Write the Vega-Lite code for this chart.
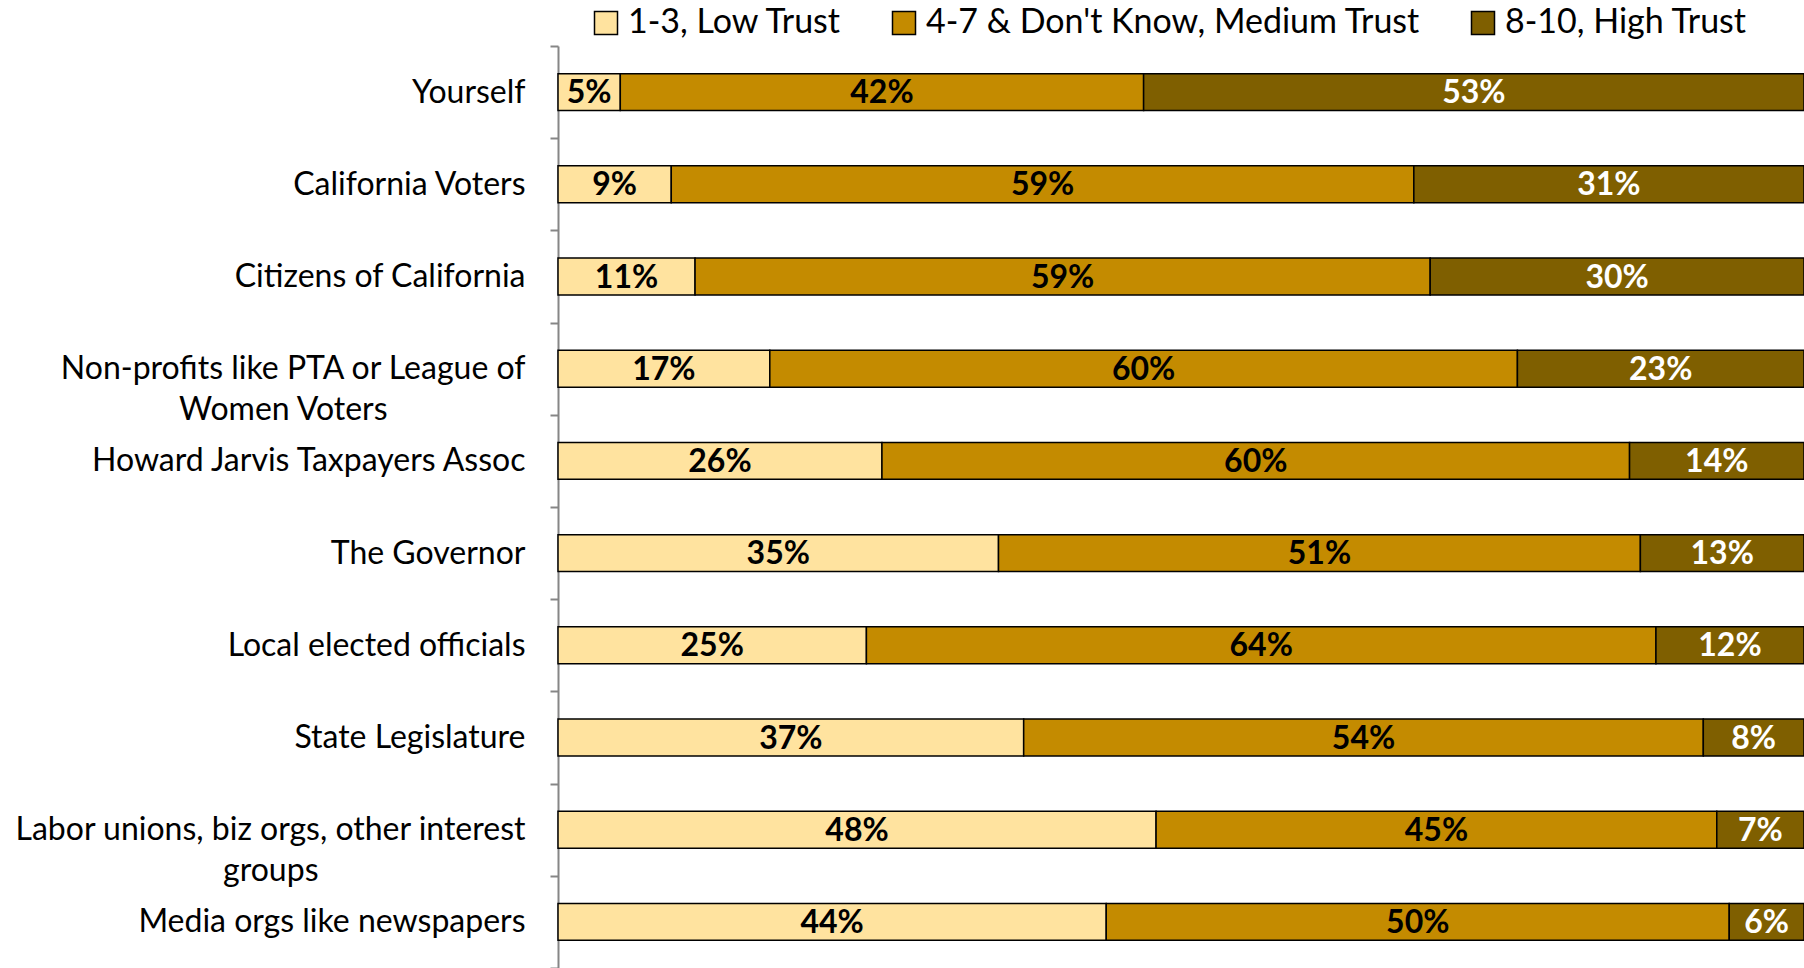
{
  "$schema": "https://vega.github.io/schema/vega-lite/v6.json",
  "autosize": {"type": "none"},
  "width": 1246,
  "height": 922,
  "padding": {"left": 558, "top": 46, "right": 0, "bottom": 0},
  "background": "white",
  "view": {"stroke": null},
  "data": {
    "values": [
      {"cat": "Yourself", "level": "1-3, Low Trust", "value": 5},
      {"cat": "Yourself", "level": "4-7 & Don't Know, Medium Trust", "value": 42},
      {"cat": "Yourself", "level": "8-10, High Trust", "value": 53},
      {"cat": "California Voters", "level": "1-3, Low Trust", "value": 9},
      {"cat": "California Voters", "level": "4-7 & Don't Know, Medium Trust", "value": 59},
      {"cat": "California Voters", "level": "8-10, High Trust", "value": 31},
      {"cat": "Citizens of California", "level": "1-3, Low Trust", "value": 11},
      {"cat": "Citizens of California", "level": "4-7 & Don't Know, Medium Trust", "value": 59},
      {"cat": "Citizens of California", "level": "8-10, High Trust", "value": 30},
      {"cat": "Non-profits like PTA or League of|Women Voters", "level": "1-3, Low Trust", "value": 17},
      {"cat": "Non-profits like PTA or League of|Women Voters", "level": "4-7 & Don't Know, Medium Trust", "value": 60},
      {"cat": "Non-profits like PTA or League of|Women Voters", "level": "8-10, High Trust", "value": 23},
      {"cat": "Howard Jarvis Taxpayers Assoc", "level": "1-3, Low Trust", "value": 26},
      {"cat": "Howard Jarvis Taxpayers Assoc", "level": "4-7 & Don't Know, Medium Trust", "value": 60},
      {"cat": "Howard Jarvis Taxpayers Assoc", "level": "8-10, High Trust", "value": 14},
      {"cat": "The Governor", "level": "1-3, Low Trust", "value": 35},
      {"cat": "The Governor", "level": "4-7 & Don't Know, Medium Trust", "value": 51},
      {"cat": "The Governor", "level": "8-10, High Trust", "value": 13},
      {"cat": "Local elected officials", "level": "1-3, Low Trust", "value": 25},
      {"cat": "Local elected officials", "level": "4-7 & Don't Know, Medium Trust", "value": 64},
      {"cat": "Local elected officials", "level": "8-10, High Trust", "value": 12},
      {"cat": "State Legislature", "level": "1-3, Low Trust", "value": 37},
      {"cat": "State Legislature", "level": "4-7 & Don't Know, Medium Trust", "value": 54},
      {"cat": "State Legislature", "level": "8-10, High Trust", "value": 8},
      {"cat": "Labor unions, biz orgs, other interest|groups", "level": "1-3, Low Trust", "value": 48},
      {"cat": "Labor unions, biz orgs, other interest|groups", "level": "4-7 & Don't Know, Medium Trust", "value": 45},
      {"cat": "Labor unions, biz orgs, other interest|groups", "level": "8-10, High Trust", "value": 7},
      {"cat": "Media orgs like newspapers", "level": "1-3, Low Trust", "value": 44},
      {"cat": "Media orgs like newspapers", "level": "4-7 & Don't Know, Medium Trust", "value": 50},
      {"cat": "Media orgs like newspapers", "level": "8-10, High Trust", "value": 6}
    ]
  },
  "transform": [
    {"joinaggregate": [{"op": "sum", "field": "value", "as": "total"}], "groupby": ["cat"]},
    {"window": [{"op": "sum", "field": "value", "as": "cum"}], "groupby": ["cat"], "sort": [{"field": "level", "order": "ascending"}], "frame": [null, 0]},
    {"calculate": "(datum.cum - datum.value / 2) / datum.total", "as": "mid"},
    {"calculate": "datum.value + '%'", "as": "lbl"}
  ],
  "encoding": {
    "y": {
      "field": "cat",
      "type": "nominal",
      "sort": null,
      "scale": {"paddingInner": 0, "paddingOuter": 0},
      "axis": {
        "title": null,
        "labelExpr": "indexof(datum.label, '|') < 0 ? datum.label : [split(datum.label, '|')[0], pad(split(datum.label, '|')[1], length(split(datum.label, '|')[1]) + (indexof(datum.label, 'Labor') >= 0 ? 9 : 6), '\u2800', 'right')]",
        "labelFont": "Lato",
        "labelFontSize": 32,
        "labelColor": "#000000",
        "labelLineHeight": 41,
        "labelLimit": 0,
        "labelBaseline": "middle",
        "labelPadding": 25,
        "domainColor": "#868686",
        "domainWidth": 2,
        "tickColor": "#868686",
        "tickWidth": 2,
        "tickSize": 8,
        "tickBand": "extent",
        "grid": false
      }
    }
  },
  "layer": [
    {
      "mark": {"type": "bar", "stroke": "#000000", "strokeWidth": 1.5, "height": {"band": 0.4}},
      "encoding": {
        "x": {"field": "value", "type": "quantitative", "stack": "normalize", "scale": {"domain": [0, 1], "nice": false}, "axis": null},
        "color": {
          "field": "level",
          "type": "nominal",
          "scale": {"domain": ["1-3, Low Trust", "4-7 & Don't Know, Medium Trust", "8-10, High Trust"], "range": ["#FFE39F", "#C48B00", "#7F5F00"]},
          "legend": {
            "title": null,
            "orient": "none",
            "legendX": 31,
            "legendY": -40,
            "direction": "horizontal",
            "symbolType": "square",
            "symbolSize": 529,
            "symbolStrokeColor": "#000000",
            "symbolStrokeWidth": 1.5,
            "labelFont": "Lato",
            "labelFontSize": 34,
            "labelColor": "#000000",
            "labelOffset": 5,
            "labelLimit": 0,
            "columnPadding": 45
          }
        },
        "order": {"field": "level", "sort": "ascending"}
      }
    },
    {
      "mark": {"type": "text", "font": "Lato", "fontWeight": "bold", "fontSize": 32, "baseline": "middle", "align": "center", "dy": 1},
      "encoding": {
        "x": {"field": "mid", "type": "quantitative", "axis": null},
        "text": {"field": "lbl", "type": "nominal"},
        "color": {"condition": {"test": "datum.level === '8-10, High Trust'", "value": "#FFFFFF"}, "value": "#000000"}
      }
    }
  ]
}
